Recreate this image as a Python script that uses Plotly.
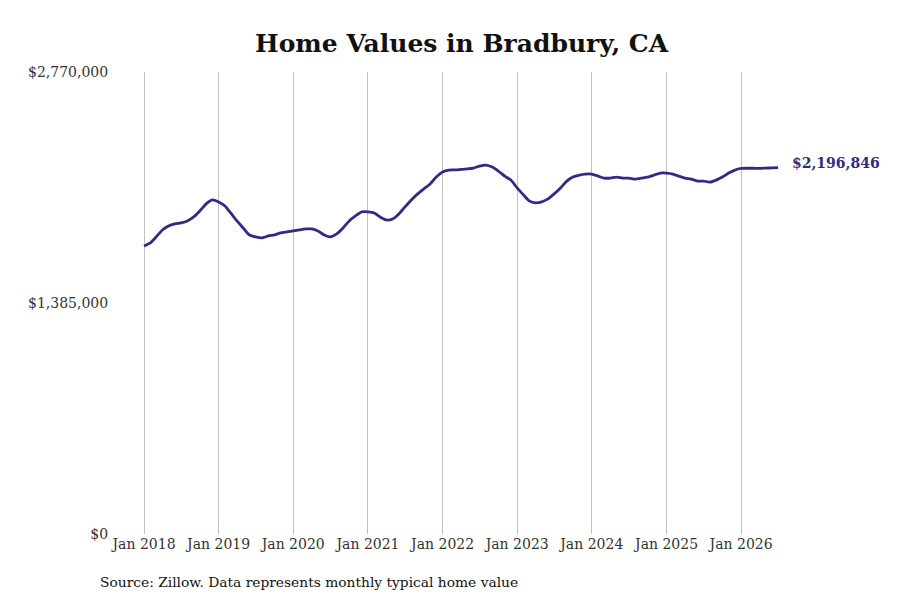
import plotly.graph_objects as go
import pandas as pd

# monthly typical home value, Jan 2018 - Jul 2026
months = pd.date_range("2018-01-01", "2026-07-01", freq="MS")
values = [
    1727000, 1745000, 1781000, 1823000, 1847000, 1859000, 1865000, 1877000, 1901000, 1937000, 1979000, 2003000,
    1991000, 1967000, 1925000, 1877000, 1835000, 1793000, 1781000, 1775000, 1787000, 1793000, 1805000, 1811000,
    1817000, 1823000, 1829000, 1829000, 1817000, 1793000, 1781000, 1799000, 1835000, 1877000, 1907000, 1931000,
    1931000, 1925000, 1901000, 1883000, 1889000, 1919000, 1961000, 2003000, 2039000, 2069000, 2099000, 2140000,
    2170000, 2182000, 2183000, 2186000, 2189000, 2194000, 2206000, 2212000, 2200000, 2176000, 2146000, 2122000,
    2075000, 2033000, 1997000, 1985000, 1991000, 2009000, 2039000, 2075000, 2116000, 2140000, 2152000, 2158000,
    2158000, 2146000, 2134000, 2134000, 2140000, 2134000, 2134000, 2128000, 2134000, 2140000, 2152000, 2164000,
    2164000, 2158000, 2146000, 2134000, 2128000, 2116000, 2116000, 2110000, 2122000, 2140000, 2164000, 2182000,
    2192000, 2193000, 2193000, 2192000, 2194000, 2195000, 2196846,
]
y_ticks = [0, 1385000, 2770000]
y_labels = ["$0", "$1,385,000", "$2,770,000"]

line_color = "#2f2b87"
font = "DejaVu Serif"

fig = go.Figure()
fig.add_trace(go.Scatter(x=months, y=values, mode="lines",
                         line=dict(color=line_color, width=2.8, shape="spline", smoothing=0.6),
                         hoverinfo="skip", showlegend=False))

# end label
fig.add_annotation(x=months[-1], y=values[-1], text="<b>${:,}</b>".format(values[-1]),
                   showarrow=False, xanchor="left", yanchor="middle", xshift=12, yshift=5,
                   font=dict(family=font, size=14, color=line_color))

fig.add_annotation(xref="paper", yref="paper", x=-0.0255, y=-0.104, xanchor="left", yanchor="middle",
                   text="Source: Zillow. Data represents monthly typical home value", showarrow=False,
                   font=dict(family=font, size=13.8, color="#111111"))

# page has an 8px body margin, so everything is shifted up/left by 8px
fig.update_layout(
    width=900, height=600,
    margin=dict(l=107, r=108, t=64, b=74),
    plot_bgcolor="white", paper_bgcolor="white",
    font=dict(family=font, size=14, color="#333333"),
    title=dict(text="<b>Home Values in Bradbury, CA</b>", x=0.506, xref="paper", xanchor="center",
               y=1 - 35 / 600, yref="container", yanchor="middle",
               font=dict(family=font, size=25, color="#111111")),
)

fig.update_xaxes(range=["2017-08-12", "2026-10-16"], tickformat="%b %Y", dtick="M12", tick0="2018-01-01",
                 showgrid=True, gridcolor="#c0c0c0", gridwidth=1, zeroline=False, showline=False,
                 ticks="", tickfont=dict(family=font, size=14, color="#333333"))
fig.update_yaxes(range=[0, 2770000], tickvals=y_ticks, ticktext=y_labels, showgrid=False,
                 zeroline=False, showline=False, ticks="outside", ticklen=3, tickcolor="white",
                 tickfont=dict(family=font, size=14, color="#333333"))

fig.write_html("out.html")
